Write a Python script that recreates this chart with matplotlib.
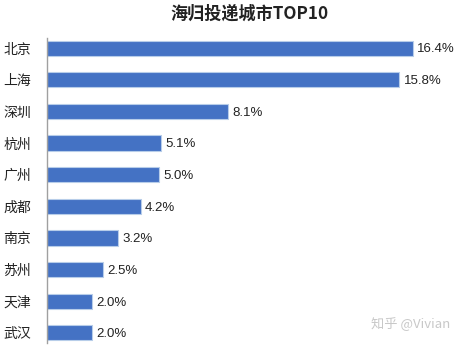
import matplotlib.pyplot as plt

plt.rcParams['font.family'] = ['Noto Sans CJK SC', 'DejaVu Sans']

cities = ["北京", "上海", "深圳", "杭州", "广州", "成都", "南京", "苏州", "天津", "武汉"]
shares = [16.4, 15.8, 8.1, 5.1, 5.0, 4.2, 3.2, 2.5, 2.0, 2.0]
labels = ["16.4%", "15.8%", "8.1%", "5.1%", "5.0%", "4.2%", "3.2%", "2.5%", "2.0%", "2.0%"]

fig = plt.figure(figsize=(4.62, 3.47), dpi=100)
ax = fig.add_axes([0.1017, 0.0115, 0.869, 0.879])

ypos = list(range(len(cities)))
ax.barh(ypos, shares, height=0.48, color='#4472c4', edgecolor='#b7cde9', linewidth=0.8)

for y, v, t in zip(ypos, shares, labels):
    ax.text(v + 0.2, y + 0.04, t, va='center', ha='left', fontsize=9.5, color='#222222',
            family=['Liberation Sans'])

ax.set_yticks(ypos)
ax.set_yticklabels(cities, fontsize=10, color='#222222')
ax.set_xticks([])
ax.set_xlim(0, 18)
ax.set_ylim(9.32, -0.32)
ax.tick_params(axis='y', length=0, pad=11.5)
for side in ['top', 'right', 'bottom']:
    ax.spines[side].set_visible(False)
ax.spines['left'].set_color('#a0a0a0')
ax.spines['left'].set_linewidth(1.0)

fig.text(0.539, 0.962, "海归投递城市TOP10", ha='center', va='center',
         fontsize=12.3, fontweight='bold', color='#222222')
fig.text(0.974, 0.065, "知乎 @Vivian", ha='right', va='center',
         fontsize=9.5, color='#c8c8c8')

fig.savefig("out.png", dpi=100)
